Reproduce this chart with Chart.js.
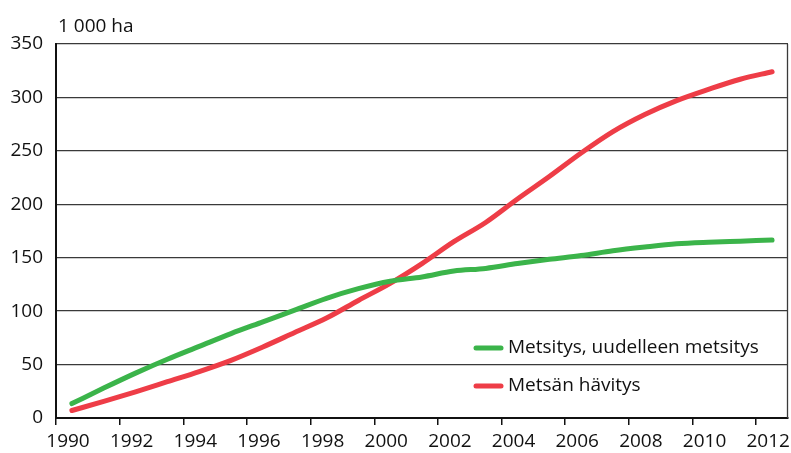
<!DOCTYPE html>
<html>
<head>
<meta charset="utf-8">
<script src="https://cdn.jsdelivr.net/npm/chart.js@4/dist/chart.umd.min.js"></script>
<style>
  html, body { margin: 0; padding: 0; background: #fff; }
  #wrap { width: 791px; height: 453px; }
</style>
</head>
<body>
<div id="wrap"><canvas id="metsat"></canvas></div>
<script>
// vuosittaiset arvot, 1 000 ha
var vuodet = [1990, 1991, 1992, 1993, 1994, 1995, 1996, 1997, 1998, 1999, 2000, 2001,
              2002, 2003, 2004, 2005, 2006, 2007, 2008, 2009, 2010, 2011, 2012];
var metsitys = [13.5, 28, 42, 55, 67, 79, 90, 101, 112, 121, 128, 132,
                137.5, 140, 144.5, 148.5, 152, 156.5, 160, 163, 164.5, 165.5, 166.5];
var havitys = [7, 15.5, 24.5, 34, 43.5, 54, 66.5, 80, 93.5, 110, 126, 144.5,
               165, 183, 205, 226, 248, 268, 284, 297, 307.5, 317, 324];
var sarjat = ["Metsitys, uudelleen metsitys", "Metsän hävitys"];
var varit = ["#3bb44a", "#ee3d47"];
var yksikko = "1 000 ha";

var fontti = "'Open Sans', sans-serif";

// pisteet vuoden keskelle
function pisteet(arvot) {
    return vuodet.map(function (v, i) { return { x: v + 0.5, y: arvot[i] }; });
}

// yksikkö vasempaan yläkulmaan, oikea reunaviiva ja selite kuvan sisään
var lisat = {
    id: 'lisat',
    afterDraw: function (chart) {
        var ctx = chart.ctx;
        var a = chart.chartArea;
        ctx.save();
        ctx.font = "19px " + fontti;
        ctx.fillStyle = "#111";
        ctx.textBaseline = "alphabetic";
        ctx.textAlign = "left";
        ctx.fillText(yksikko, a.left + 2, a.top - 12);

        ctx.strokeStyle = "#3a3a3a";
        ctx.lineWidth = 1.3;
        ctx.beginPath();
        ctx.moveTo(a.right - 0.5, a.top);
        ctx.lineTo(a.right - 0.5, a.bottom);
        ctx.stroke();

        ctx.textBaseline = "middle";
        chart.data.datasets.forEach(function (ds, i) {
            var y = a.bottom - 70 + i * 38;
            var x = a.left + 420;
            ctx.strokeStyle = ds.borderColor;
            ctx.lineWidth = 5;
            ctx.lineCap = "round";
            ctx.beginPath();
            ctx.moveTo(x, y);
            ctx.lineTo(x + 25, y);
            ctx.stroke();
            ctx.fillStyle = "#111";
            ctx.fillText(ds.label, x + 32, y);
        });
        ctx.restore();
    }
};

var ctx = document.getElementById("metsat").getContext('2d');
var chart = new Chart(ctx, {
    type: "line",
    data: {
        datasets: [
            {
                label: sarjat[0],
                data: pisteet(metsitys),
                borderColor: varit[0],
                backgroundColor: varit[0],
                borderWidth: 5,
                pointRadius: 0,
                cubicInterpolationMode: 'monotone',
                borderCapStyle: 'round'
            },
            {
                label: sarjat[1],
                data: pisteet(havitys),
                borderColor: varit[1],
                backgroundColor: varit[1],
                borderWidth: 5,
                pointRadius: 0,
                cubicInterpolationMode: 'monotone',
                borderCapStyle: 'round'
            }
        ]
    },
    options: {
        responsive: true,
        maintainAspectRatio: false,
        animation: false,
        layout: {
            padding: { left: 0, right: 3, top: 44, bottom: 0 }
        },
        plugins: {
            legend: { display: false },
            tooltip: { enabled: false }
        },
        scales: {
            x: {
                type: 'linear',
                min: 1990,
                max: 2013,
                afterFit: function (scale) { scale.height = 35; },
                grid: {
                    drawOnChartArea: false,
                    drawTicks: true,
                    tickLength: 7,
                    color: '#111',
                    lineWidth: 1.5
                },
                border: { color: '#111', width: 2 },
                ticks: {
                    stepSize: 2,
                    includeBounds: false,
                    maxRotation: 0,
                    autoSkip: false,
                    labelOffset: 12,
                    padding: 5,
                    color: '#111',
                    font: { family: fontti, size: 19 },
                    callback: function (v) { return String(v); }
                }
            },
            y: {
                min: 0,
                max: 350,
                afterFit: function (scale) { scale.width = 56; },
                grid: {
                    drawTicks: false,
                    color: '#3a3a3a',
                    lineWidth: 1.3
                },
                border: { color: '#111', width: 2 },
                ticks: {
                    stepSize: 50,
                    padding: 13,
                    color: '#111',
                    font: { family: fontti, size: 19 }
                }
            }
        }
    },
    plugins: [lisat]
});
</script>
</body>
</html>
